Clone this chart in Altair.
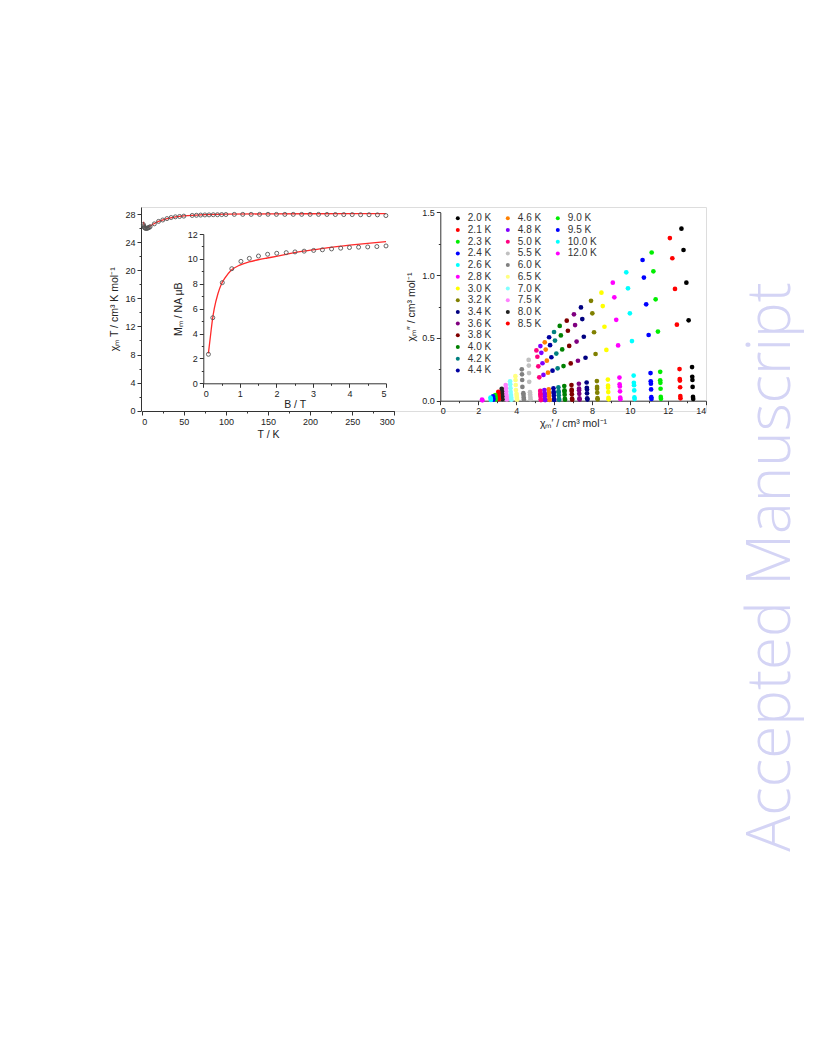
import altair as alt
import pandas as pd

FONT = "Liberation Sans"
INK = "#333333"

# ---------------- left panel: chi_m T vs T ----------------
T_DATA = [2, 2.5, 3, 3.5, 4, 5, 6, 7, 8, 9, 10, 15, 20, 25, 30, 35, 40, 45, 50,
          60, 65, 70, 75, 80, 85, 90, 95, 100,
          110, 120, 130, 140, 150, 160, 170, 180, 190, 200, 210, 220, 230, 240, 250, 260, 270, 280, 290]
CHIT_DATA = [26.5, 26.3, 26.15, 26.05, 26.0, 25.95, 25.95, 26.0, 26.05, 26.1, 26.2, 26.6, 26.95, 27.15, 27.35, 27.5, 27.6, 27.65, 27.7,
             27.8, 27.82, 27.85, 27.87, 27.88, 27.9, 27.9, 27.92, 27.93,
             27.95, 27.95, 27.95, 27.95, 27.96, 27.95, 27.95, 27.95, 27.95, 27.95, 27.95, 27.94, 27.93, 27.92, 27.92, 27.9, 27.9, 27.88, 27.78]
FIT_T = [2, 3, 4, 5, 6, 8, 10, 15, 20, 30, 40, 50, 75, 100, 150, 200, 250, 290]
FIT_CHIT = [26.9, 26.4, 26.15, 26.05, 26.05, 26.15, 26.3, 26.65, 26.95, 27.35, 27.6, 27.75, 27.92, 27.98, 28.02, 28.04, 28.05, 28.05]

# ---------------- inset: M vs B ----------------
B_DATA = [0.14, 0.26, 0.52, 0.78, 1.03, 1.26, 1.51, 1.76, 2.01, 2.27, 2.51, 2.76, 3.02, 3.26, 3.51, 3.76, 4.0, 4.25, 4.5, 4.75, 5.0]
M_DATA = [2.33, 5.27, 8.09, 9.21, 9.8, 10.04, 10.23, 10.37, 10.45, 10.5, 10.56, 10.62, 10.68, 10.73, 10.8, 10.86, 10.91, 10.94, 10.96, 10.99, 11.04]
FIT_B = [0.14, 0.2, 0.25, 0.3, 0.4, 0.5, 0.6, 0.75, 1.0, 1.25, 1.5, 1.75, 2.0, 2.5, 3.0, 3.5, 4.0, 4.5, 5.0]
FIT_M = [2.4, 3.9, 5.1, 6.0, 7.2, 8.0, 8.5, 9.05, 9.5, 9.75, 9.93, 10.07, 10.2, 10.5, 10.72, 10.93, 11.1, 11.25, 11.38]

# ---------------- right panel: Cole-Cole ----------------
TEMPS = ["2.0 K", "2.1 K", "2.3 K", "2.4 K", "2.6 K", "2.8 K", "3.0 K", "3.2 K", "3.4 K", "3.6 K",
         "3.8 K", "4.0 K", "4.2 K", "4.4 K", "4.6 K", "4.8 K", "5.0 K", "5.5 K", "6.0 K", "6.5 K",
         "7.0 K", "7.5 K", "8.0 K", "8.5 K", "9.0 K", "9.5 K", "10.0 K", "12.0 K"]
COLORS = ["#000000", "#ff0000", "#00ee00", "#0000ff", "#00ffff", "#ff00ff", "#ffff00", "#808000", "#000080", "#800080",
          "#800000", "#008000", "#008080", "#0000a0", "#ff8000", "#8000ff", "#ff0080", "#c0c0c0", "#808080", "#ffff80",
          "#80ffff", "#ff80ff", "#202020", "#ff0000", "#00ee00", "#0000ff", "#00ffff", "#ff00ff"]

X_2_0 = [12.72, 12.83, 12.98, 13.10, 13.28, 13.29, 13.30, 13.31, 13.33, 13.34]
Y_2_0 = [1.37, 1.20, 0.94, 0.64, 0.268, 0.19, 0.165, 0.11, 0.03, 0.014]
X_2_1 = [12.11, 12.24, 12.38, 12.48, 12.62, 12.63, 12.64, 12.65, 12.66, 12.67]
Y_2_1 = [1.295, 1.134, 0.89, 0.605, 0.252, 0.173, 0.16, 0.107, 0.037, 0.019]
X_2_3 = [11.15, 11.24, 11.36, 11.48, 11.60, 11.60, 11.61, 11.62, 11.63, 11.64]
Y_2_3 = [1.18, 1.03, 0.807, 0.55, 0.23, 0.163, 0.142, 0.095, 0.03, 0.015]
X_2_4 = [10.67, 10.74, 10.86, 10.99, 11.09, 11.10, 11.11, 11.12, 11.13, 11.14]
Y_2_4 = [1.12, 0.98, 0.767, 0.523, 0.22, 0.155, 0.135, 0.09, 0.028, 0.014]
X_2_6 = [9.81, 9.90, 10.00, 10.11, 10.20, 10.21, 10.22, 10.23, 10.24, 10.25]
Y_2_6 = [1.022, 0.895, 0.696, 0.475, 0.20, 0.142, 0.123, 0.082, 0.026, 0.013]
X_2_8 = [9.10, 9.18, 9.28, 9.38, 9.45, 9.46, 9.47, 9.48, 9.49, 9.50]
Y_2_8 = [0.94, 0.823, 0.644, 0.44, 0.184, 0.13, 0.113, 0.075, 0.024, 0.012]
X_3_0 = [8.50, 8.57, 8.66, 8.76, 8.84, 8.85, 8.85, 8.86, 8.87, 8.88]
Y_3_0 = [0.86, 0.753, 0.589, 0.404, 0.168, 0.12, 0.103, 0.069, 0.022, 0.011]
X_3_2 = [7.95, 8.02, 8.11, 8.19, 8.26, 8.27, 8.27, 8.28, 8.29, 8.30]
Y_3_2 = [0.795, 0.696, 0.545, 0.372, 0.156, 0.11, 0.095, 0.064, 0.02, 0.01]
X_3_4 = [7.42, 7.49, 7.57, 7.66, 7.72, 7.73, 7.74, 7.74, 7.75, 7.76]
Y_3_4 = [0.743, 0.65, 0.509, 0.342, 0.145, 0.103, 0.089, 0.059, 0.019, 0.009]
X_3_6 = [7.05, 7.11, 7.19, 7.26, 7.31, 7.32, 7.32, 7.33, 7.34, 7.35]
Y_3_6 = [0.688, 0.602, 0.471, 0.318, 0.135, 0.096, 0.083, 0.055, 0.018, 0.009]
X_3_8 = [6.67, 6.73, 6.80, 6.88, 6.92, 6.93, 6.93, 6.94, 6.95, 6.96]
Y_3_8 = [0.637, 0.557, 0.436, 0.297, 0.125, 0.088, 0.077, 0.051, 0.016, 0.008]
X_4_0 = [6.30, 6.36, 6.43, 6.50, 6.54, 6.55, 6.55, 6.56, 6.57, 6.58]
Y_4_0 = [0.595, 0.52, 0.408, 0.276, 0.117, 0.083, 0.071, 0.048, 0.015, 0.008]
X_4_2 = [6.00, 6.05, 6.12, 6.19, 6.23, 6.24, 6.24, 6.25, 6.26, 6.27]
Y_4_2 = [0.547, 0.479, 0.375, 0.258, 0.107, 0.076, 0.066, 0.044, 0.014, 0.007]
X_4_4 = [5.74, 5.79, 5.86, 5.92, 5.97, 5.98, 5.98, 5.99, 6.00, 6.01]
Y_4_4 = [0.505, 0.442, 0.346, 0.239, 0.099, 0.07, 0.061, 0.04, 0.013, 0.006]
X_4_6 = [5.51, 5.56, 5.62, 5.68, 5.72, 5.73, 5.73, 5.74, 5.75, 5.76]
Y_4_6 = [0.465, 0.407, 0.319, 0.223, 0.091, 0.065, 0.056, 0.037, 0.012, 0.006]
X_4_8 = [5.28, 5.33, 5.39, 5.44, 5.49, 5.50, 5.50, 5.51, 5.52, 5.53]
Y_4_8 = [0.435, 0.381, 0.298, 0.205, 0.085, 0.06, 0.052, 0.035, 0.011, 0.005]
X_5_0 = [5.07, 5.12, 5.17, 5.22, 5.27, 5.28, 5.28, 5.29, 5.30, 5.31]
Y_5_0 = [0.40, 0.35, 0.274, 0.186, 0.078, 0.056, 0.048, 0.032, 0.01, 0.005]
X_5_5 = [4.66, 4.67, 4.68, 4.69, 4.73, 4.74, 4.75, 4.76]
Y_5_5 = [0.325, 0.28, 0.22, 0.15, 0.068, 0.05, 0.03, 0.012]
X_6_0 = [4.30, 4.31, 4.32, 4.33, 4.38, 4.39, 4.40, 4.41]
Y_6_0 = [0.25, 0.21, 0.165, 0.11, 0.06, 0.045, 0.025, 0.01]
X_6_5 = [3.96, 3.97, 3.98, 3.99, 4.02, 4.03, 4.04, 4.05]
Y_6_5 = [0.195, 0.165, 0.125, 0.085, 0.055, 0.038, 0.022, 0.008]
X_7_0 = [3.68, 3.69, 3.70, 3.71, 3.73, 3.74, 3.75]
Y_7_0 = [0.155, 0.13, 0.10, 0.07, 0.045, 0.025, 0.008]
X_7_5 = [3.45, 3.46, 3.47, 3.48, 3.50, 3.51]
Y_7_5 = [0.125, 0.10, 0.075, 0.05, 0.03, 0.01]
X_8_0 = [3.24, 3.25, 3.26, 3.27, 3.28]
Y_8_0 = [0.095, 0.075, 0.055, 0.035, 0.012]
X_8_5 = [3.06, 3.07, 3.08, 3.09]
Y_8_5 = [0.07, 0.05, 0.03, 0.012]
X_9_0 = [2.90, 2.91, 2.92]
Y_9_0 = [0.045, 0.028, 0.01]
X_9_5 = [2.78, 2.79, 2.80]
Y_9_5 = [0.035, 0.02, 0.008]
X_10_0 = [2.65, 2.66, 2.67]
Y_10_0 = [0.025, 0.015, 0.006]
X_12_0 = [2.20, 2.22]
Y_12_0 = [0.008, 0.003]

WATERMARK = "Accepted Manuscript"

# ---------------- tables ----------------
SERIES = [
    (TEMPS[0], X_2_0, Y_2_0), (TEMPS[1], X_2_1, Y_2_1), (TEMPS[2], X_2_3, Y_2_3),
    (TEMPS[3], X_2_4, Y_2_4), (TEMPS[4], X_2_6, Y_2_6), (TEMPS[5], X_2_8, Y_2_8),
    (TEMPS[6], X_3_0, Y_3_0), (TEMPS[7], X_3_2, Y_3_2), (TEMPS[8], X_3_4, Y_3_4),
    (TEMPS[9], X_3_6, Y_3_6), (TEMPS[10], X_3_8, Y_3_8), (TEMPS[11], X_4_0, Y_4_0),
    (TEMPS[12], X_4_2, Y_4_2), (TEMPS[13], X_4_4, Y_4_4), (TEMPS[14], X_4_6, Y_4_6),
    (TEMPS[15], X_4_8, Y_4_8), (TEMPS[16], X_5_0, Y_5_0), (TEMPS[17], X_5_5, Y_5_5),
    (TEMPS[18], X_6_0, Y_6_0), (TEMPS[19], X_6_5, Y_6_5), (TEMPS[20], X_7_0, Y_7_0),
    (TEMPS[21], X_7_5, Y_7_5), (TEMPS[22], X_8_0, Y_8_0), (TEMPS[23], X_8_5, Y_8_5),
    (TEMPS[24], X_9_0, Y_9_0), (TEMPS[25], X_9_5, Y_9_5), (TEMPS[26], X_10_0, Y_10_0),
    (TEMPS[27], X_12_0, Y_12_0),
]
cc_rows = []
for order, (lab, xs, ys) in enumerate(SERIES):
    for xv, yv in zip(xs, ys):
        cc_rows.append({"temp": lab, "chi1": xv, "chi2": yv, "order": order})
cc_df = pd.DataFrame(cc_rows)

main_df = pd.DataFrame({"T": T_DATA, "chiT": CHIT_DATA})
main_fit = pd.DataFrame({"T": FIT_T, "chiT": FIT_CHIT})
ins_df = pd.DataFrame({"B": B_DATA, "M": M_DATA})
ins_fit = pd.DataFrame({"B": FIT_B, "M": FIT_M})
wm_df = pd.DataFrame({"t": [WATERMARK]})

# legend: 3 columns of 14 rows, filled column by column (blank slots padded)
color_of = dict(zip(TEMPS, COLORS))
leg_domain, leg_range = [], []
for c, col in enumerate([TEMPS[:14], TEMPS[14:24], TEMPS[24:]]):
    for r in range(14):
        if r < len(col):
            leg_domain.append(col[r])
            leg_range.append(color_of[col[r]])
        else:
            leg_domain.append(f"_b{c}_{r}")
            leg_range.append("rgba(0,0,0,0)")

# ---------------- axes helpers ----------------
def major(orient, values, title, offset=0.0, fmt="", title_pad=3, label_pad=2):
    kw = dict(orient=orient, values=values, title=title, offset=offset, grid=False,
              domainColor=INK, domainWidth=1, tickColor=INK, tickWidth=1, tickSize=4,
              labelColor="#222222", labelFont=FONT, labelFontSize=9, labelPadding=label_pad,
              titleFont=FONT, titleFontSize=10.5, titleFontWeight="normal", titleColor="#222222",
              titlePadding=title_pad)
    if fmt:
        kw["format"] = fmt
    return alt.Axis(**kw)


def minor(orient, values, offset=0.0):
    return alt.Axis(orient=orient, values=values, title="", offset=offset, grid=False,
                    labels=False, domain=False, tickColor=INK, tickWidth=1, tickSize=2)


# ---------------- scales (pixel ranges inside one 565 x 204 frame) ----------------
mx = alt.Scale(domain=[0, 300], range=[0.7, 253.3], nice=False, zero=False)
my = alt.Scale(domain=[0, 29], range=[203.7, 0], nice=False, zero=False)
ix = alt.Scale(domain=[0, 5], range=[62.3, 245], nice=False, zero=False)
iy = alt.Scale(domain=[0, 12], range=[176.3, 27], nice=False, zero=False)
rx = alt.Scale(domain=[0, 14], range=[299.3, 564.7], nice=False, zero=False)
ry = alt.Scale(domain=[0, 1.5], range=[193.7, 5.3], nice=False, zero=False)

main_line = alt.Chart(main_fit).mark_line(color="#ff2a2a", strokeWidth=1.3).encode(
    x=alt.X("T:Q", scale=mx, axis=minor("bottom", list(range(25, 300, 50)))),
    y=alt.Y("chiT:Q", scale=my, axis=minor("left", list(range(2, 29, 4)))),
)
main_pts = alt.Chart(main_df).mark_point(shape="circle", filled=False, size=16, strokeWidth=0.9,
                                          color="#555555", opacity=1).encode(
    x=alt.X("T:Q", scale=mx, axis=major("bottom", list(range(0, 301, 50)), "T / K")),
    y=alt.Y("chiT:Q", scale=my, axis=major("left", list(range(0, 29, 4)), "χₘ T / cm³ K mol⁻¹", title_pad=5)),
)

ins_line = alt.Chart(ins_fit).mark_line(color="#ff2a2a", strokeWidth=1.3, interpolate="monotone").encode(
    x=alt.X("B:Q", scale=ix, axis=minor("bottom", [0.5, 1.5, 2.5, 3.5, 4.5], offset=-27.7)),
    y=alt.Y("M:Q", scale=iy, axis=minor("left", [1, 3, 5, 7, 9, 11], offset=-62.3)),
)
ins_pts = alt.Chart(ins_df).mark_point(shape="circle", filled=False, size=16, strokeWidth=0.9,
                                        color="#555555", opacity=1).encode(
    x=alt.X("B:Q", scale=ix, axis=major("bottom", [0, 1, 2, 3, 4, 5], "B / T", offset=-27.7, title_pad=1)),
    y=alt.Y("M:Q", scale=iy, axis=major("left", [0, 2, 4, 6, 8, 10, 12], "Mₘ / NA μB", offset=-62.3, title_pad=4)),
)

label_expr = ("indexof(datum.label, '_b') == 0 ? '' : "
              "(datum.label == '9.0 K' || datum.label == '9.5 K') ? '\u2007' + datum.label : datum.label")
cc_pts = alt.Chart(cc_df).mark_point(shape="circle", filled=True, size=22, opacity=1, strokeWidth=0).encode(
    x=alt.X("chi1:Q", scale=rx, axis=major("bottom", list(range(0, 15, 2)), "χₘ′ / cm³ mol⁻¹", offset=-10.3)),
    y=alt.Y("chi2:Q", scale=ry, axis=major("left", [0, 0.5, 1.0, 1.5], "χₘ″ / cm³ mol⁻¹", offset=-299.3, fmt=".1f", title_pad=5)),
    color=alt.Color("temp:N", scale=alt.Scale(domain=leg_domain, range=leg_range),
                    legend=alt.Legend(title=None, orient="none", legendX=311.8, legendY=6.3, columns=3,
                                      symbolType="circle", symbolSize=16, symbolStrokeWidth=0,
                                      symbolLimit=60,
                                      labelFont=FONT, labelFontSize=10, labelColor="#333333",
                                      labelOffset=5, rowPadding=1.7, columnPadding=11, padding=0,
                                      labelExpr=label_expr)),
    order=alt.Order("order:Q"),
)
cc_minor = alt.Chart(cc_df).mark_point(opacity=0).encode(
    x=alt.X("chi1:Q", scale=rx, axis=minor("bottom", list(range(1, 14, 2)), offset=-10.3)),
    y=alt.Y("chi2:Q", scale=ry, axis=minor("left", [0.25, 0.75, 1.25], offset=-299.3)),
)

wm = alt.Chart(wm_df).mark_text(angle=270, fontSize=60, font="Open Sans", fontWeight=300,
                                color="#d4d4f5", align="center", baseline="middle").encode(
    x=alt.value(631), y=alt.value(360), text="t:N")

chart = alt.layer(wm, main_line, main_pts, ins_line, ins_pts, cc_minor, cc_pts).resolve_scale(
    x="independent", y="independent"
).properties(
    width=565, height=204,
    autosize=alt.AutoSizeParams(type="none"),
    padding={"left": 133, "top": 199, "right": 102, "bottom": 460},
).configure_view(strokeWidth=0).configure(background="white")

chart.save("out.html", embed_options={"renderer": "svg", "actions": False})
